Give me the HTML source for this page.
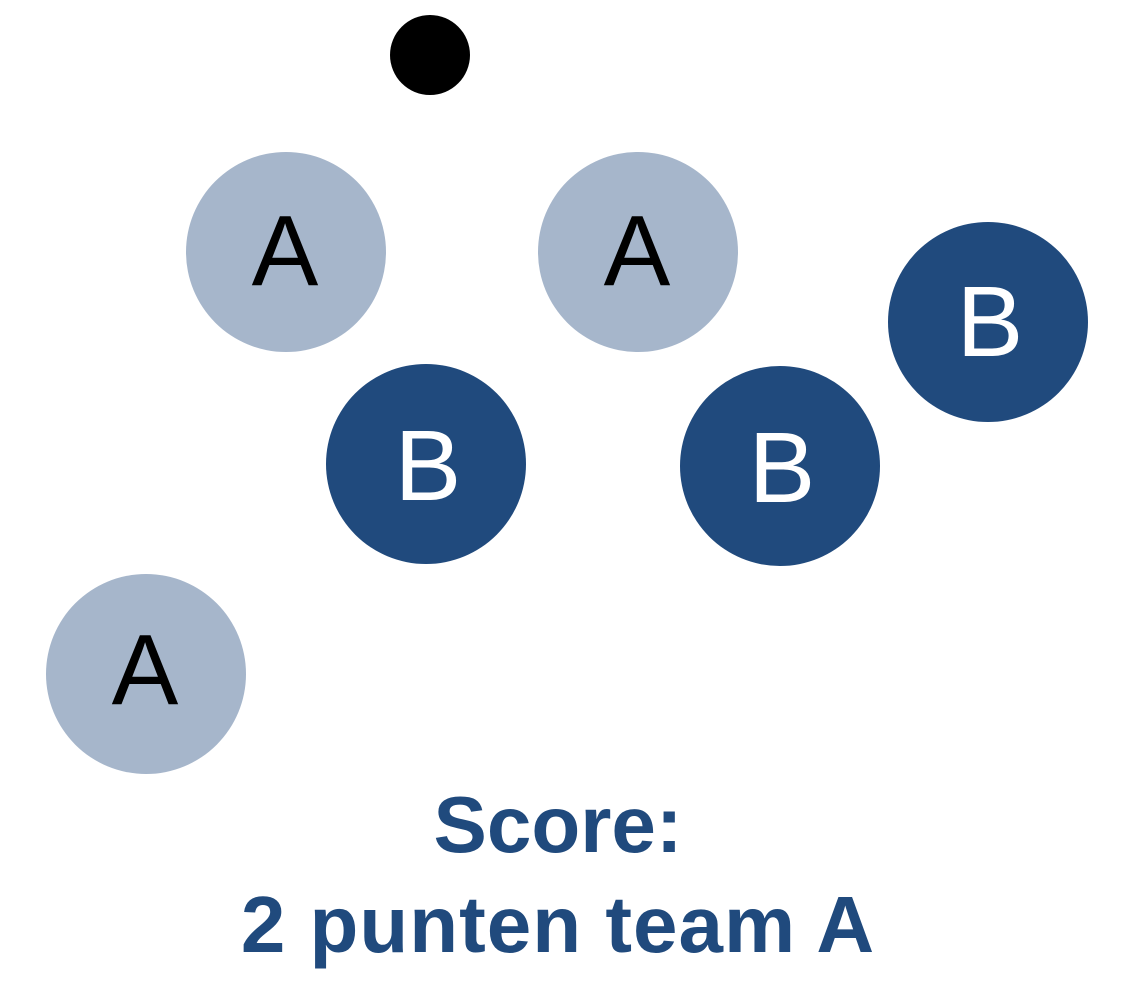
<!DOCTYPE html>
<html><head><style>body{margin:0;background:#fff}</style></head><body>
<svg width="1122" height="1000" xmlns="http://www.w3.org/2000/svg">
<rect width="1122" height="1000" fill="#fff"/>
<circle cx="430" cy="55" r="40" fill="#000"/>
<g font-family="Liberation Sans, sans-serif" font-size="100" text-anchor="middle">
<circle cx="286" cy="252" r="100" fill="#a6b6cb"/>
<text x="285" y="285" fill="#000">A</text>
<circle cx="638" cy="252" r="100" fill="#a6b6cb"/>
<text x="637" y="285" fill="#000">A</text>
<circle cx="146" cy="674" r="100" fill="#a6b6cb"/>
<text x="145" y="704" fill="#000">A</text>
<circle cx="426" cy="464" r="100" fill="#204a7d"/>
<text x="428" y="500" fill="#fff">B</text>
<circle cx="780" cy="466" r="100" fill="#204a7d"/>
<text x="782" y="502" fill="#fff">B</text>
<circle cx="988" cy="322" r="100" fill="#204a7d"/>
<text x="990" y="356" fill="#fff">B</text>
</g>
<g font-family="Liberation Sans, sans-serif" font-size="80" font-weight="bold" fill="#204a7d" text-anchor="middle">
<text x="558" y="852">Score:</text>
<text x="558" y="952" letter-spacing="1">2 punten team A</text>
</g>
</svg>
</body></html>
